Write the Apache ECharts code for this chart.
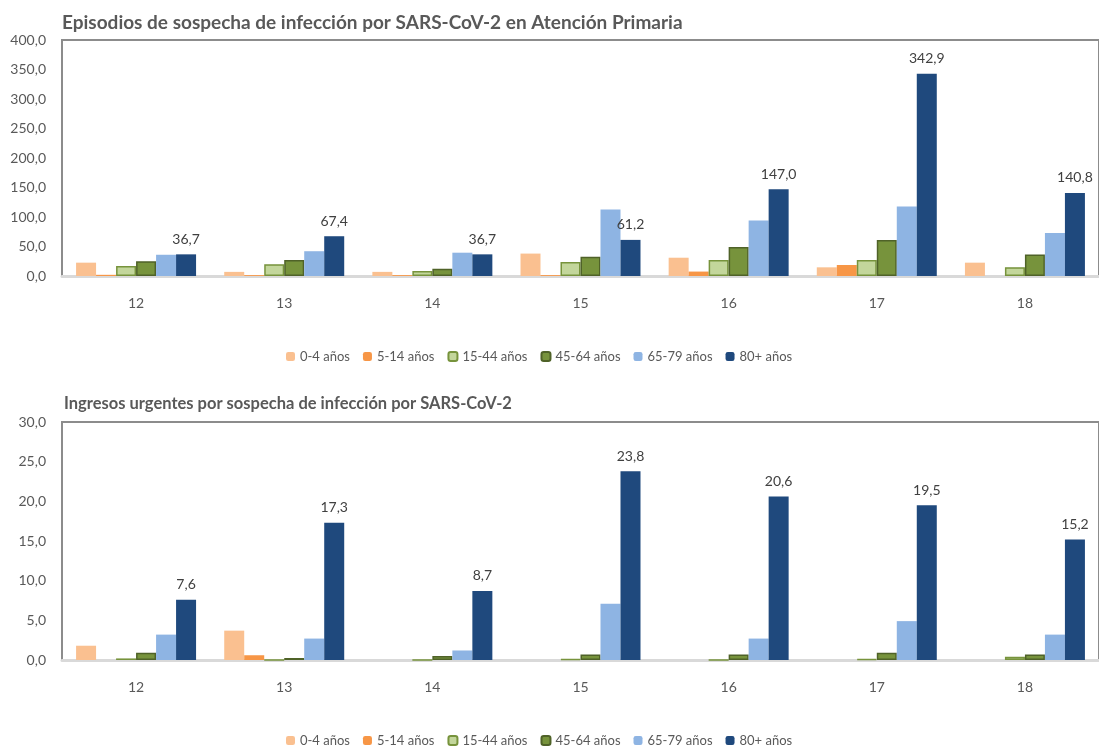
<!DOCTYPE html>
<html lang="es">
<head>
<meta charset="UTF-8">
<title>Episodios e ingresos SARS-CoV-2</title>
<style>
    *{ margin: 0; padding: 0; }
    body{ background: #fff; }
    #chart{ width: 1099px; height: 749px; }
</style>
</head>
<body>
<div id="chart"></div>
<script src="https://cdn.jsdelivr.net/npm/echarts@6/dist/echarts.min.js"></script>
<script>
// semanas
var weeks = ['12', '13', '14', '15', '16', '17', '18']
var groups = ['0-4 años', '5-14 años', '15-44 años', '45-64 años', '65-79 años', '80+ años']

// Episodios en Atención Primaria (por grupo de edad)
var ap_0_4   = [22.6, 7.0, 7.0, 38.0, 31.0, 14.7, 22.6]
var ap_5_14  = [2.0, 1.5, 1.5, 1.5, 7.5, 18.6, 0]
var ap_15_44 = [17.0, 20.0, 8.5, 23.7, 27.0, 27.0, 15.0]
var ap_45_64 = [25.0, 27.0, 12.5, 32.8, 49.0, 61.0, 36.6]
var ap_65_79 = [36.0, 42.0, 39.5, 112.7, 94.0, 118.0, 73.0]
var ap_80    = [36.7, 67.4, 36.7, 61.2, 147.0, 342.9, 140.8]

// Ingresos urgentes
var ing_0_4   = [1.8, 3.7, 0, 0, 0, 0, 0]
var ing_5_14  = [0, 0.6, 0, 0, 0, 0, 0]
var ing_15_44 = [0.2, 0, 0, 0.1, 0, 0.1, 0.4]
var ing_45_64 = [0.9, 0.25, 0.5, 0.7, 0.7, 0.9, 0.7]
var ing_65_79 = [3.2, 2.7, 1.2, 7.1, 2.7, 4.9, 3.2]
var ing_80    = [7.6, 17.3, 8.7, 23.8, 20.6, 19.5, 15.2]

var colors  = ['#fac090', '#f79646', '#c3d69b', '#77933c', '#8eb4e3', '#1f497d']
var borders = [null, null, '#77933c', '#4f6228', null, null]

var fontName = 'Lato'

function fmt(v) {
    return v.toFixed(1).replace('.', ',')
}

var chart = echarts.init(document.getElementById('chart'))

function makeSeries(idx, lists) {
    return lists.map(function (data, i) {
        var s = {
            name: groups[i],
            type: 'bar',
            xAxisIndex: idx,
            yAxisIndex: idx,
            data: data,
            barGap: '0%',
            barCategoryGap: '19%',
            itemStyle: {
                color: colors[i],
                borderColor: borders[i] || colors[i],
                borderWidth: borders[i] ? 1.5 : 0
            }
        }
        if (i === 5) {
            s.label = {
                show: true,
                position: 'top',
                distance: 8,
                color: '#404040',
                fontFamily: fontName,
                fontSize: 14,
                formatter: function (p) { return fmt(p.value) }
            }
        }
        return s
    })
}

function makeY(idx, max, step) {
    return {
        type: 'value',
        gridIndex: idx,
        min: 0,
        max: max,
        interval: step,
        axisLine: { show: false },
        axisTick: { show: false },
        splitLine: { show: false },
        axisLabel: {
            color: '#595959',
            fontFamily: fontName,
            fontSize: 14,
            margin: 16,
            formatter: function (v) { return fmt(v) }
        }
    }
}

function makeX(idx) {
    return {
        type: 'category',
        gridIndex: idx,
        data: weeks,
        axisLine: { lineStyle: { color: '#d9d9d9', width: 3 } },
        axisTick: { show: false },
        axisLabel: { color: '#595959', fontFamily: fontName, fontSize: 14, margin: 20 }
    }
}

function makeLegend(top) {
    return {
        data: groups,
        left: 281,
        top: top,
        itemWidth: 9,
        itemHeight: 9,
        itemGap: 13,
        textStyle: { color: '#595959', fontFamily: fontName, fontSize: 13 }
    }
}

var options = {
    animation: false,
    title: [
        {
            text: 'Episodios de sospecha de infección por SARS-CoV-2 en Atención Primaria',
            left: 57, top: 8,
            textStyle: { color: '#595959', fontFamily: fontName, fontSize: 19, fontWeight: 'bold' }
        },
        {
            text: 'Ingresos urgentes por sospecha de infección por SARS-CoV-2',
            left: 59, top: 390,
            textStyle: { color: '#595959', fontFamily: fontName, fontSize: 16.5, fontWeight: 'bold' }
        }
    ],
    legend: [makeLegend(345), makeLegend(729)],
    grid: [
        { left: 62, top: 40, width: 1043, height: 236, show: true, borderColor: '#8c8c8c', borderWidth: 2 },
        { left: 62, top: 422, width: 1043, height: 238, show: true, borderColor: '#8c8c8c', borderWidth: 2 }
    ],
    xAxis: [makeX(0), makeX(1)],
    yAxis: [makeY(0, 400, 50), makeY(1, 30, 5)],
    series: makeSeries(0, [ap_0_4, ap_5_14, ap_15_44, ap_45_64, ap_65_79, ap_80])
        .concat(makeSeries(1, [ing_0_4, ing_5_14, ing_15_44, ing_45_64, ing_65_79, ing_80]))
}

chart.setOption(options)
</script>
</body>
</html>
